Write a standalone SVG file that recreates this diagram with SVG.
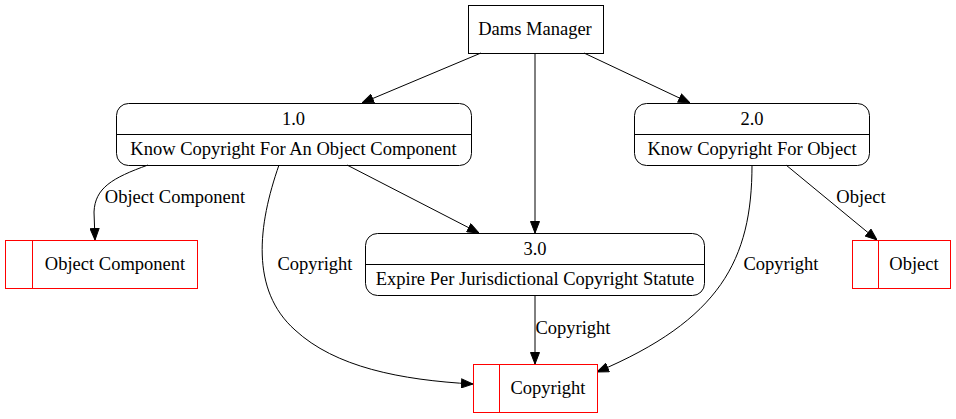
<svg xmlns="http://www.w3.org/2000/svg" width="956" height="419" viewBox="0 0 956 419">
<style>
text{font-family:'Liberation Serif','Times New Roman',serif;font-size:18.5px;fill:#000;text-anchor:middle}
.proc{fill:none;stroke:#000;stroke-width:1}
.store{fill:none;stroke:#ff0000;stroke-width:1}
.edge{fill:none;stroke:#000;stroke-width:1}
</style>
<defs>
<marker id="arr" markerWidth="12" markerHeight="10" refX="12" refY="5" orient="auto" markerUnits="userSpaceOnUse">
<path d="M0.5,0.5 L12,5 L0.5,9.5 Z" fill="#000" stroke="#000" stroke-width="1"/>
</marker>
</defs>
<rect width="956" height="419" fill="#fff"/>
<g id="edges">
<path class="edge" d="M481,53 L362,103" marker-end="url(#arr)"/>
<path class="edge" d="M535,53 L535,233" marker-end="url(#arr)"/>
<path class="edge" d="M584,53 L690,103" marker-end="url(#arr)"/>
<path class="edge" d="M148,165 C112,178 95,188 94,212 L95,240" marker-end="url(#arr)"/>
<text x="175" y="203">Object Component</text>
<path class="edge" d="M347,165 L479,233" marker-end="url(#arr)"/>
<path class="edge" d="M279,165 C258,225 250,290 295,330 C335,367 400,380 473,384" marker-end="url(#arr)"/>
<text x="315" y="270">Copyright</text>
<path class="edge" d="M535,295 L535,364" marker-end="url(#arr)"/>
<text x="573" y="334">Copyright</text>
<path class="edge" d="M752,165 C752,260 720,320 597,372" marker-end="url(#arr)"/>
<text x="781" y="270">Copyright</text>
<path class="edge" d="M786,165 L877,240" marker-end="url(#arr)"/>
<text x="861" y="203">Object</text>
</g>
<g id="dams_manager">
<rect class="proc" x="468.5" y="5.5" width="135" height="48"/>
<text x="535" y="35">Dams Manager</text>
</g>
<g id="p1">
<rect class="proc" x="116.5" y="103.5" width="355" height="62" rx="12"/>
<line class="proc" x1="116.5" y1="134.5" x2="471.5" y2="134.5"/>
<text x="293.5" y="125">1.0</text>
<text x="293.5" y="155">Know Copyright For An Object Component</text>
</g>
<g id="p2">
<rect class="proc" x="634.5" y="103.5" width="235" height="62" rx="12"/>
<line class="proc" x1="634.5" y1="134.5" x2="869.5" y2="134.5"/>
<text x="752" y="125">2.0</text>
<text x="752" y="155">Know Copyright For Object</text>
</g>
<g id="p3">
<rect class="proc" x="365.5" y="233.5" width="339" height="62" rx="12"/>
<line class="proc" x1="365.5" y1="264.5" x2="704.5" y2="264.5"/>
<text x="535" y="255">3.0</text>
<text x="535" y="285">Expire Per Jurisdictional Copyright Statute</text>
</g>
<g id="ds_object_component">
<rect class="store" x="5.5" y="240.5" width="192" height="48"/>
<line class="store" x1="32.5" y1="240.5" x2="32.5" y2="288.5"/>
<text x="115" y="270">Object Component</text>
</g>
<g id="ds_object">
<rect class="store" x="852.5" y="240.5" width="98" height="48"/>
<line class="store" x1="878.5" y1="240.5" x2="878.5" y2="288.5"/>
<text x="914" y="270">Object</text>
</g>
<g id="ds_copyright">
<rect class="store" x="473.5" y="364.5" width="124" height="48"/>
<line class="store" x1="499.5" y1="364.5" x2="499.5" y2="412.5"/>
<text x="548" y="394">Copyright</text>
</g>
</svg>
